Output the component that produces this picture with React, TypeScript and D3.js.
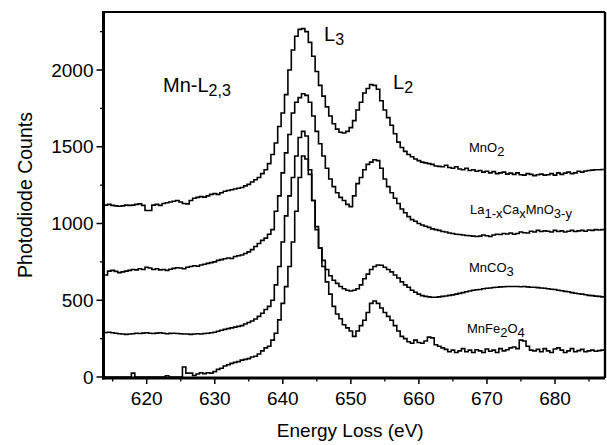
import React from "react";
import * as d3 from "d3";

// Energy grid (eV), 0.5 eV bins
const energies: number[] = d3.range(614, 687.001, 0.5);

const mnO2: number[] = [
  1120,1125,1118,1115,1112,1115,1120,1118,1120,1125,
  1128,1118,1085,1085,1120,1125,1118,1130,1135,1140,
  1145,1150,1140,1130,1128,1150,1165,1170,1175,1172,
  1180,1190,1195,1190,1200,1210,1215,1220,1225,1230,
  1235,1245,1255,1270,1285,1300,1325,1350,1390,1450,
  1525,1632,1720,1840,2000,2130,2220,2265,2270,2250,
  2180,2090,1990,1900,1830,1760,1700,1650,1615,1595,
  1590,1600,1625,1670,1740,1790,1850,1880,1905,1900,
  1875,1800,1740,1690,1640,1585,1530,1495,1470,1450,
  1435,1420,1410,1400,1395,1390,1385,1375,1372,1370,
  1380,1365,1360,1370,1355,1350,1360,1345,1350,1340,
  1345,1335,1340,1330,1338,1325,1330,1335,1322,1328,
  1320,1330,1318,1315,1325,1320,1312,1318,1322,1315,
  1318,1325,1315,1330,1320,1328,1335,1325,1330,1340,
  1335,1342,1345,1348,1350,1350,1352,
];

const laCaMnO3: number[] = [
  665,690,695,688,680,685,690,695,700,698,
  705,700,715,710,700,705,698,700,695,702,
  708,712,710,705,715,720,725,722,730,735,
  740,745,750,760,765,770,775,772,785,790,
  795,805,815,830,850,870,890,905,930,960,
  1080,1180,1330,1460,1580,1720,1790,1820,1845,1835,
  1790,1700,1600,1520,1440,1360,1290,1240,1200,1170,
  1150,1125,1110,1180,1260,1300,1350,1385,1400,1415,
  1410,1360,1290,1240,1200,1165,1130,1095,1070,1045,
  1025,1015,1000,990,982,975,965,960,955,948,
  945,938,935,930,928,925,922,920,918,915,
  918,925,920,915,925,930,928,935,932,938,
  930,935,945,940,938,950,945,955,948,952,
  950,945,955,948,952,945,950,955,948,952,
  955,950,958,955,960,958,960,
];

const mnCO3: number[] = [
  290,292,288,285,282,280,278,280,282,285,
  283,286,288,285,283,286,288,285,282,284,
  285,283,282,280,280,278,280,282,280,283,
  285,288,292,298,305,310,315,320,325,330,
  335,345,355,365,378,395,415,440,460,500,
  600,720,880,1050,1180,1300,1440,1560,1600,1570,
  1350,1150,960,840,760,700,660,630,610,590,
  575,565,560,565,575,600,640,670,700,720,
  730,728,715,700,685,665,645,620,600,585,
  565,552,540,530,525,522,520,520,522,525,
  528,532,535,540,545,550,555,560,565,568,
  570,575,578,580,583,585,587,588,590,590,
  590,590,588,590,587,585,585,582,580,578,
  575,572,570,565,562,558,555,550,546,542,
  540,536,532,530,527,525,522,
];

const mnFe2O4: number[] = [
  0,0,0,0,0,0,0,0,25,0,
  0,0,0,0,0,0,0,0,8,0,
  0,0,0,65,25,25,10,20,28,22,
  28,25,35,50,57,72,80,89,95,100,
  110,115,120,130,135,150,170,190,200,240,
  285,372,480,589,720,880,1080,1300,1440,1420,
  1320,1150,980,840,720,620,540,460,410,380,
  340,320,300,265,300,335,370,420,480,495,
  480,450,420,395,370,335,300,265,250,230,
  220,240,225,220,235,260,255,210,200,190,
  180,165,175,160,170,185,165,175,160,178,
  170,160,182,168,175,160,185,170,178,190,
  195,185,240,235,200,175,170,180,165,185,
  170,160,182,190,175,160,170,185,165,172,
  180,165,170,175,168,172,175,
];

const seriesList: number[][] = [mnO2, laCaMnO3, mnCO3, mnFe2O4];

const xTicksMajor: number[] = [620, 630, 640, 650, 660, 670, 680];
const xTicksMinor: number[] = [615, 625, 635, 645, 655, 665, 675, 685];
const yTicksMajor: number[] = [0, 500, 1000, 1500, 2000];
const yTicksMinor: number[] = [250, 750, 1250, 1750, 2250];

const W = 607;
const H = 445;
const left = 103.5;
const right = 605;
const top = 12;
const bottom = 378;

const FONT = "'Liberation Sans', Arial, Helvetica, sans-serif";

export default function App() {
  const x = d3.scaleLinear().domain([613.65, 687.35]).range([left, right]);
  const y = d3.scaleLinear().domain([-6.5, 2378]).range([bottom, top]);

  const line = d3
    .line<[number, number]>()
    .x((d) => x(d[0]))
    .y((d) => y(d[1]))
    .curve(d3.curveStep);

  const xd = x.domain();
  const paths = seriesList.map((vals) => {
    const pts: [number, number][] = energies.map((e, i) => [e, vals[i]]);
    pts.unshift([xd[0], vals[0]]);
    pts.push([xd[1], vals[vals.length - 1]]);
    return line(pts) || "";
  });

  const sub = (t: string, size = 13) => (
    <tspan fontSize={size} dy={4}>{t}</tspan>
  );

  return (
    <svg
      width={W}
      height={H}
      style={{ position: "absolute", left: 0, top: 0, background: "#fff" }}
      fontFamily={FONT}
    >
      <defs>
        <clipPath id="plotclip">
          <rect x={left} y={top} width={right - left} height={bottom - top} />
        </clipPath>
      </defs>

      {/* curves */}
      <g clipPath="url(#plotclip)" fill="none" stroke="#000" strokeWidth={1.6} strokeLinejoin="miter">
        {paths.map((p, i) => (
          <path key={i} d={p} />
        ))}
      </g>

      {/* frame */}
      <line x1={left} y1={top} x2={right} y2={top} stroke="#000" strokeWidth={2.2} />
      <line x1={right} y1={top} x2={right} y2={bottom} stroke="#000" strokeWidth={2.4} />
      <line x1={left} y1={top - 1} x2={left} y2={bottom + 1.5} stroke="#000" strokeWidth={3} />
      <line x1={left - 1.5} y1={bottom} x2={right} y2={bottom} stroke="#000" strokeWidth={3} />

      {/* x ticks */}
      {xTicksMajor.map((t) => (
        <g key={"xM" + t}>
          <line x1={x(t)} x2={x(t)} y1={bottom} y2={bottom + 6} stroke="#000" strokeWidth={1.5} />
          <text x={x(t)} y={bottom + 27} textAnchor="middle" fontSize={19}>
            {t}
          </text>
        </g>
      ))}
      {xTicksMinor.map((t) => (
        <line key={"xm" + t} x1={x(t)} x2={x(t)} y1={bottom} y2={bottom + 3.5} stroke="#000" strokeWidth={1.3} />
      ))}

      {/* y ticks */}
      {yTicksMajor.map((t) => (
        <g key={"yM" + t}>
          <line x1={left} x2={left - 7} y1={y(t)} y2={y(t)} stroke="#000" strokeWidth={1.5} />
          <text x={left - 10} y={y(t)} dy="0.35em" textAnchor="end" fontSize={19}>
            {t}
          </text>
        </g>
      ))}
      {yTicksMinor.map((t) => (
        <line key={"ym" + t} x1={left} x2={left - 3.5} y1={y(t)} y2={y(t)} stroke="#000" strokeWidth={1.3} />
      ))}

      {/* axis titles */}
      <text x={(left + right) / 2 - 4} y={437} textAnchor="middle" fontSize={19}>
        Energy Loss (eV)
      </text>
      <text
        transform={`translate(32, ${(top + bottom) / 2}) rotate(-90)`}
        textAnchor="middle"
        fontSize={19.5}
      >
        Photodiode Counts
      </text>

      {/* annotations */}
      <text x={163} y={92} fontSize={20}>
        Mn-L{sub("2,3", 16)}
      </text>
      <text x={324} y={41} fontSize={20}>
        L{sub("3", 16)}
      </text>
      <text x={393} y={89} fontSize={20}>
        L{sub("2", 16)}
      </text>
      <text x={469} y={152} fontSize={13}>
        MnO{sub("2")}
      </text>
      <text x={470} y={214} fontSize={13}>
        La{sub("1-x")}
        <tspan dy={-4}>Ca</tspan>
        {sub("x")}
        <tspan dy={-4}>MnO</tspan>
        {sub("3-y")}
      </text>
      <text x={469} y={272} fontSize={13}>
        MnCO{sub("3")}
      </text>
      <text x={467} y={333} fontSize={13}>
        MnFe{sub("2")}
        <tspan dy={-4}>O</tspan>
        {sub("4")}
      </text>
    </svg>
  );
}
